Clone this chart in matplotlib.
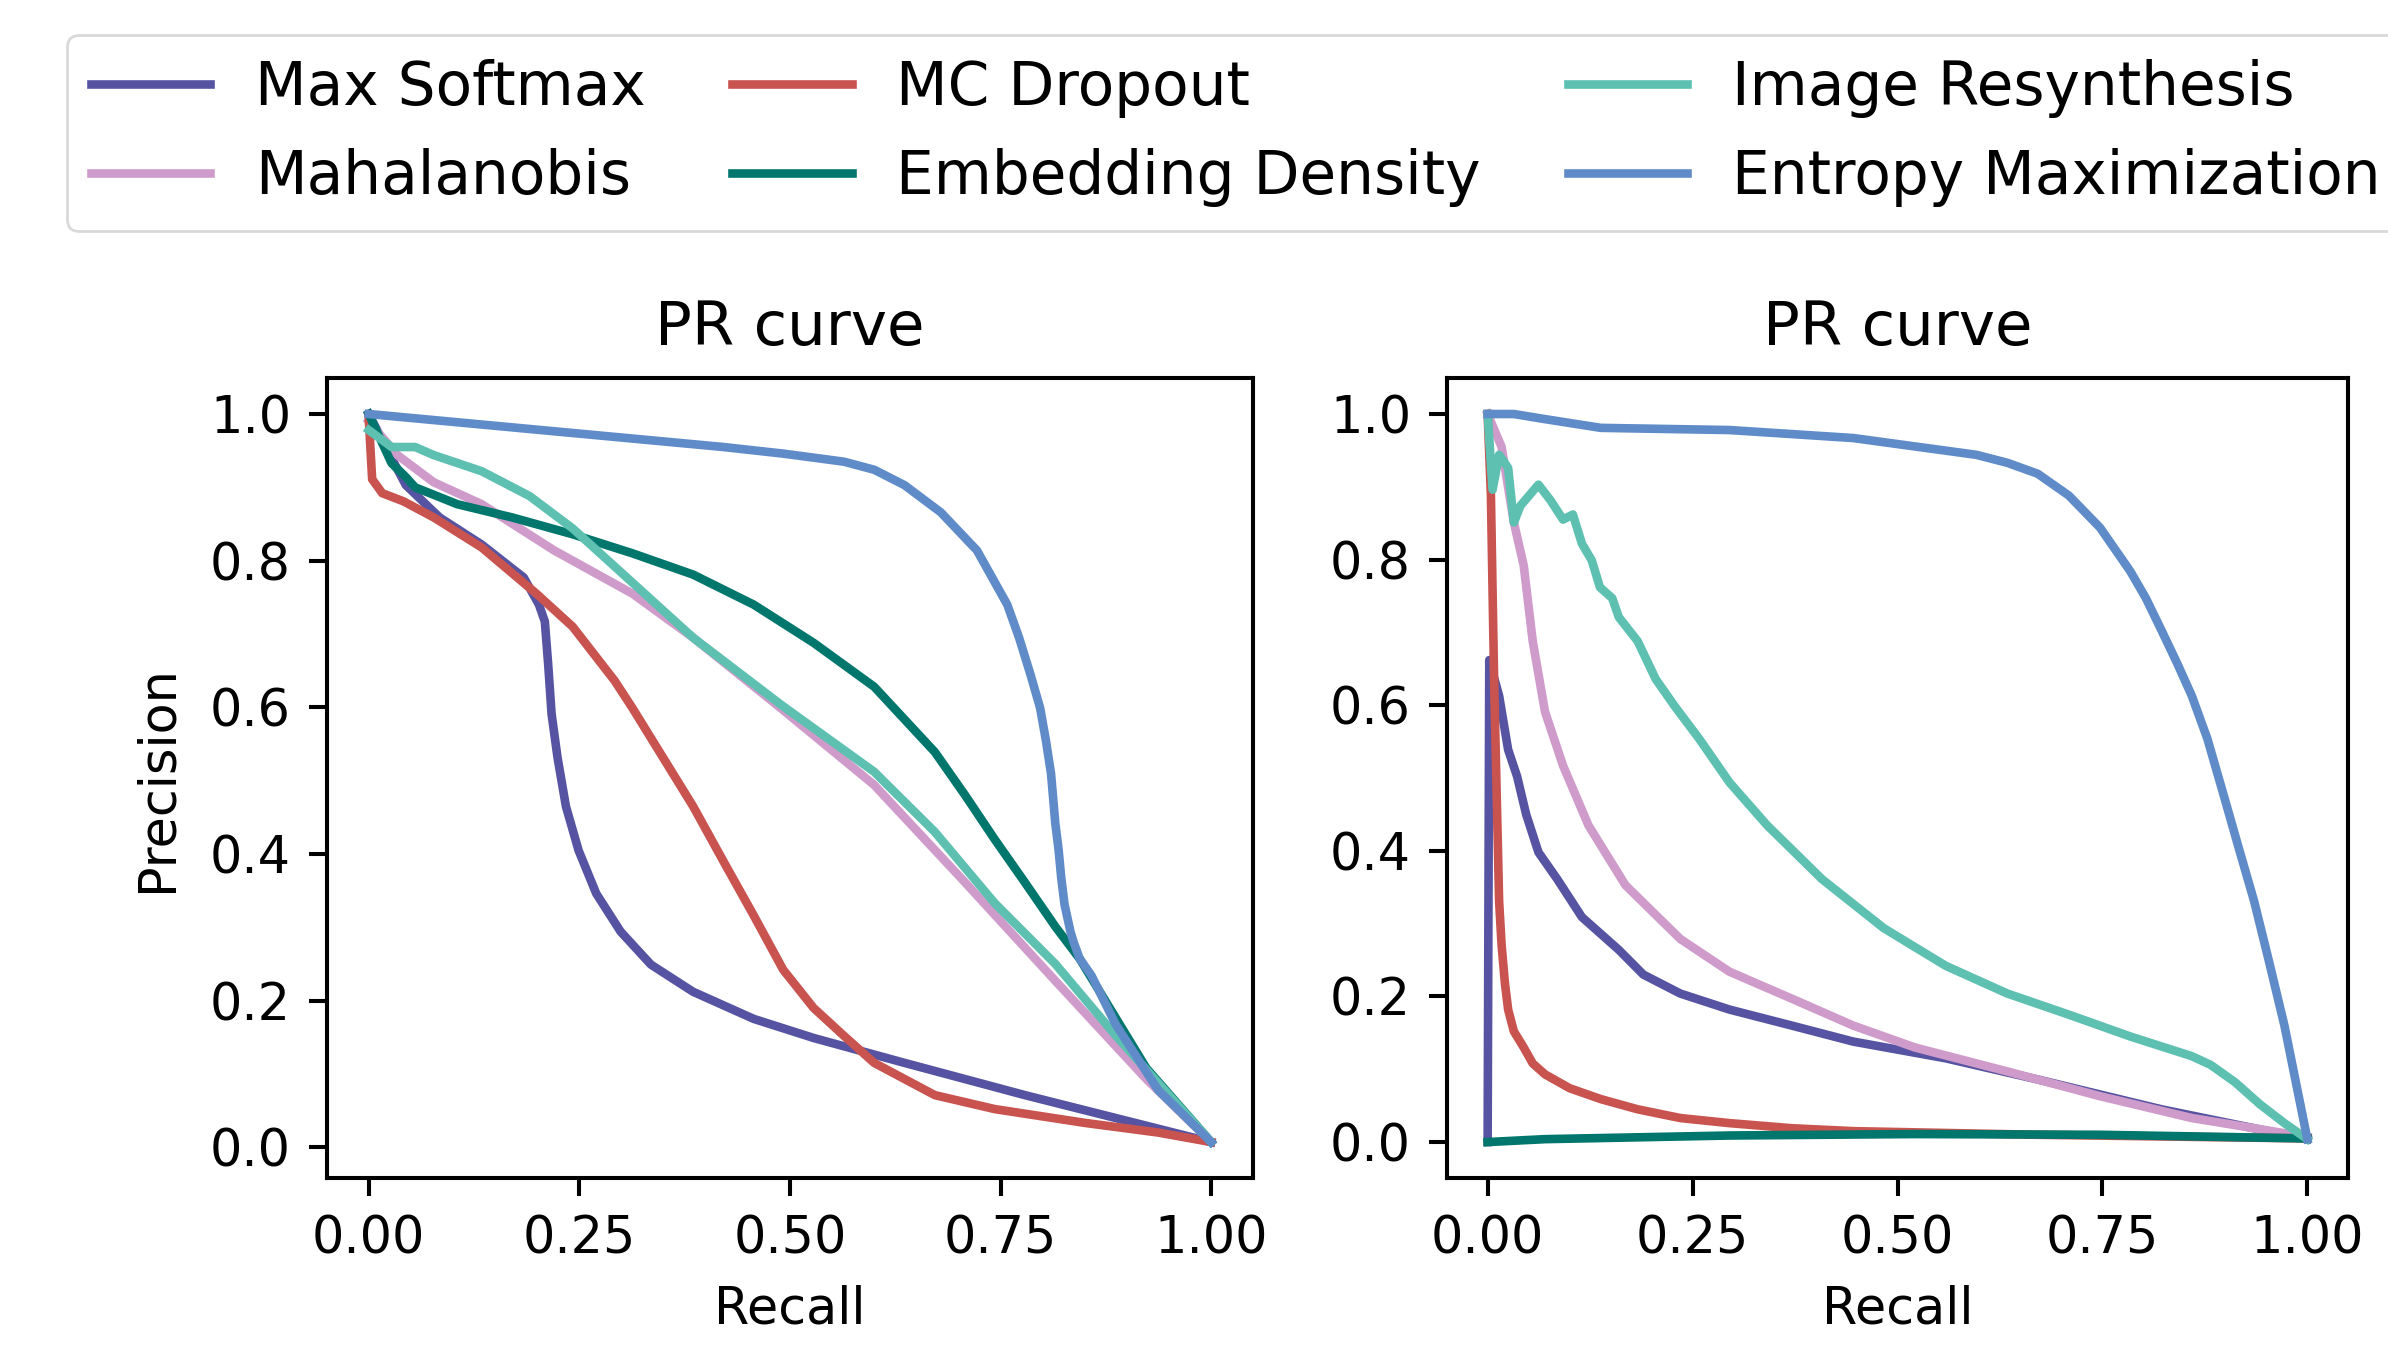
import matplotlib
matplotlib.use("Agg")
import matplotlib.pyplot as plt

# names and colours
methods = ["Max Softmax", "Mahalanobis", "MC Dropout",
           "Embedding Density", "Image Resynthesis", "Entropy Maximization"]
colors = ["#5654A2", "#CF9BCA", "#C8534F", "#00766C", "#5DC0B1", "#5F8BC8"]

# left panel: recall / precision
l_softmax_r = [0.0, 0.027, 0.044, 0.084, 0.134, 0.184, 0.202, 0.209, 0.213, 0.217, 0.224, 0.234, 0.249, 0.27, 0.299, 0.335, 0.385, 0.457, 0.528, 0.636, 0.779, 1.0]
l_softmax_p = [1.0, 0.94, 0.903, 0.859, 0.822, 0.777, 0.74, 0.717, 0.658, 0.591, 0.532, 0.465, 0.405, 0.346, 0.294, 0.249, 0.212, 0.175, 0.149, 0.115, 0.071, 0.007]
l_maha_r = [0.0, 0.034, 0.077, 0.134, 0.22, 0.313, 0.385, 0.49, 0.6, 0.708, 0.815, 0.923, 1.0]
l_maha_p = [0.99, 0.944, 0.907, 0.877, 0.814, 0.755, 0.695, 0.598, 0.494, 0.361, 0.227, 0.093, 0.007]
l_mcd_r = [0.0, 0.004, 0.016, 0.041, 0.077, 0.134, 0.199, 0.242, 0.292, 0.313, 0.349, 0.385, 0.421, 0.457, 0.492, 0.528, 0.564, 0.6, 0.636, 0.672, 0.743, 0.851, 0.937, 1.0]
l_mcd_p = [0.993, 0.911, 0.892, 0.881, 0.859, 0.818, 0.755, 0.71, 0.636, 0.599, 0.532, 0.465, 0.39, 0.316, 0.242, 0.19, 0.152, 0.115, 0.093, 0.071, 0.052, 0.033, 0.02, 0.007]
l_emb_r = [0.0, 0.027, 0.044, 0.055, 0.105, 0.17, 0.242, 0.313, 0.385, 0.457, 0.528, 0.6, 0.672, 0.708, 0.743, 0.779, 0.815, 0.844, 0.923, 1.0]
l_emb_p = [1.0, 0.933, 0.914, 0.9, 0.877, 0.859, 0.836, 0.81, 0.781, 0.74, 0.688, 0.628, 0.539, 0.48, 0.42, 0.361, 0.301, 0.257, 0.108, 0.007]
l_resyn_r = [0.0, 0.027, 0.055, 0.077, 0.134, 0.191, 0.242, 0.313, 0.385, 0.49, 0.6, 0.672, 0.743, 0.815, 0.887, 1.0]
l_resyn_p = [0.978, 0.955, 0.955, 0.944, 0.922, 0.888, 0.844, 0.77, 0.695, 0.603, 0.512, 0.43, 0.333, 0.25, 0.152, 0.007]
l_ent_r = [0.0, 0.421, 0.492, 0.564, 0.6, 0.636, 0.679, 0.722, 0.758, 0.772, 0.786, 0.797, 0.804, 0.81, 0.815, 0.819, 0.822, 0.826, 0.833, 0.837, 0.844, 0.858, 0.887, 0.937, 1.0]
l_ent_p = [1.0, 0.955, 0.946, 0.935, 0.924, 0.903, 0.866, 0.814, 0.74, 0.695, 0.643, 0.599, 0.554, 0.509, 0.442, 0.405, 0.368, 0.331, 0.294, 0.279, 0.257, 0.234, 0.167, 0.078, 0.007]

# right panel
r_softmax_r = [0.0, 0.002, 0.014, 0.025, 0.036, 0.047, 0.062, 0.085, 0.115, 0.16, 0.19, 0.235, 0.295, 0.371, 0.446, 0.559, 0.671, 0.822, 1.0]
r_softmax_p = [0.0, 0.662, 0.613, 0.539, 0.502, 0.45, 0.398, 0.361, 0.309, 0.264, 0.23, 0.204, 0.182, 0.16, 0.138, 0.115, 0.086, 0.045, 0.004]
r_maha_r = [0.0, 0.017, 0.032, 0.044, 0.055, 0.07, 0.092, 0.123, 0.168, 0.235, 0.295, 0.371, 0.446, 0.521, 0.634, 0.747, 0.859, 1.0]
r_maha_p = [1.0, 0.955, 0.851, 0.792, 0.688, 0.591, 0.517, 0.435, 0.353, 0.279, 0.234, 0.197, 0.16, 0.13, 0.097, 0.063, 0.033, 0.007]
r_mcd_r = [0.0, 0.004, 0.008, 0.014, 0.017, 0.021, 0.025, 0.032, 0.044, 0.055, 0.07, 0.1, 0.138, 0.183, 0.235, 0.295, 0.371, 0.446, 0.671, 1.0]
r_mcd_p = [1.0, 0.888, 0.628, 0.331, 0.271, 0.219, 0.182, 0.152, 0.13, 0.108, 0.093, 0.074, 0.059, 0.045, 0.033, 0.026, 0.019, 0.015, 0.01, 0.005]
r_emb_r = [0.0, 0.07, 0.295, 0.521, 0.747, 1.0]
r_emb_p = [0.0, 0.004, 0.009, 0.011, 0.01, 0.005]
r_resyn_r = [0.0, 0.006, 0.014, 0.025, 0.032, 0.04, 0.062, 0.077, 0.092, 0.104, 0.115, 0.127, 0.137, 0.152, 0.16, 0.183, 0.205, 0.228, 0.258, 0.295, 0.341, 0.408, 0.483, 0.559, 0.634, 0.709, 0.784, 0.859, 0.882, 0.912, 0.942, 0.972, 1.0]
r_resyn_p = [1.0, 0.896, 0.944, 0.926, 0.851, 0.874, 0.903, 0.881, 0.855, 0.862, 0.822, 0.799, 0.762, 0.747, 0.721, 0.688, 0.636, 0.599, 0.554, 0.494, 0.435, 0.361, 0.294, 0.242, 0.204, 0.175, 0.145, 0.118, 0.106, 0.082, 0.052, 0.026, 0.004]
r_ent_r = [0.0, 0.032, 0.07, 0.138, 0.295, 0.446, 0.596, 0.634, 0.671, 0.709, 0.747, 0.784, 0.803, 0.822, 0.841, 0.859, 0.878, 0.897, 0.916, 0.935, 0.953, 0.972, 1.0]
r_ent_p = [1.0, 1.0, 0.993, 0.981, 0.978, 0.967, 0.944, 0.933, 0.918, 0.888, 0.844, 0.784, 0.747, 0.703, 0.658, 0.613, 0.554, 0.48, 0.405, 0.331, 0.249, 0.16, 0.004]

left = [(l_softmax_r, l_softmax_p), (l_maha_r, l_maha_p), (l_mcd_r, l_mcd_p),
        (l_emb_r, l_emb_p), (l_resyn_r, l_resyn_p), (l_ent_r, l_ent_p)]
right = [(r_softmax_r, r_softmax_p), (r_maha_r, r_maha_p), (r_mcd_r, r_mcd_p),
         (r_emb_r, r_emb_p), (r_resyn_r, r_resyn_p), (r_ent_r, r_ent_p)]

s = 1.83  # scale of all default sizes
plt.rcParams.update({
    "font.size": 10 * s,
    "axes.linewidth": 0.8 * s,
    "xtick.major.size": 3.5 * s, "ytick.major.size": 3.5 * s,
    "xtick.major.width": 0.8 * s, "ytick.major.width": 0.8 * s,
    "xtick.major.pad": 3.5 * s, "ytick.major.pad": 3.5 * s,
})

fig = plt.figure(figsize=(11.94, 6.765), dpi=200)
ax1 = fig.add_axes([0.1368, 0.1290, 0.3880, 0.5919])
ax2 = fig.add_axes([0.6058, 0.1290, 0.3776, 0.5919])

handles = []
for ax, curves in [(ax1, left), (ax2, right)]:
    for (r, p), c, name in zip(curves, colors, methods):
        h, = ax.plot(r, p, color=c, lw=3.1, label=name, solid_joinstyle="round")
        if ax is ax1:
            handles.append(h)
    ax.set_title("PR curve", fontsize=12 * s, pad=6.5 * s)
    ax.set_xlabel("Recall", labelpad=4 * s)
    ax.set_xticks([0.0, 0.25, 0.5, 0.75, 1.0])
    ax.set_yticks([0.0, 0.2, 0.4, 0.6, 0.8, 1.0])

ax1.set_ylabel("Precision", labelpad=10)

fig.legend(handles=handles, labels=methods, ncol=3, loc="upper left",
           bbox_to_anchor=(66.7 / 2388, 1 - 35 / 1353), borderaxespad=0,
           fontsize=11.75 * s, columnspacing=1.45, labelspacing=0.5,
           handletextpad=0.75, edgecolor="#d0d0d0")

fig.savefig("out.png", dpi=200)
